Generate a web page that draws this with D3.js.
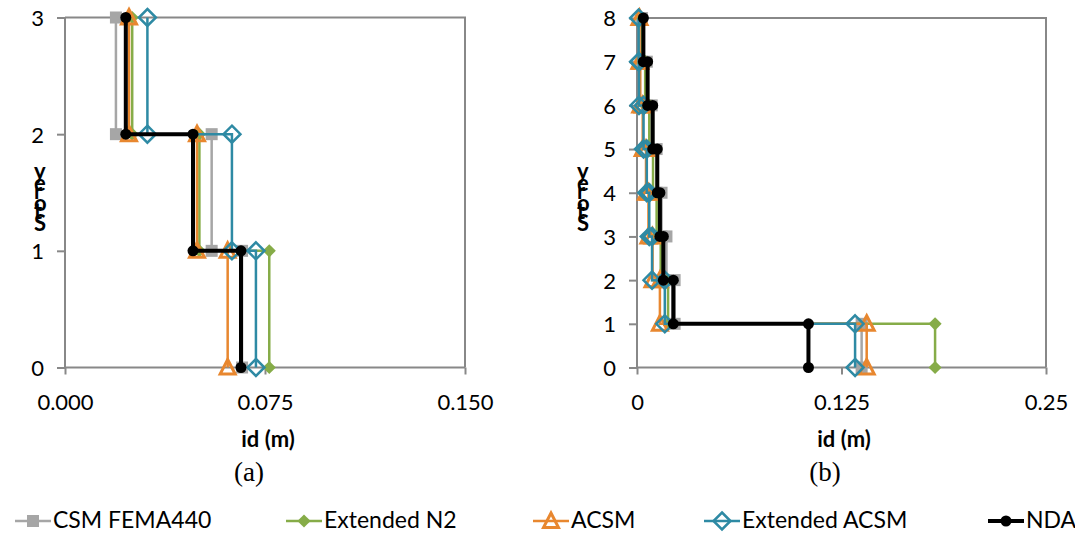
<!DOCTYPE html>
<html>
<head>
<meta charset="utf-8">
<script src="https://cdn.jsdelivr.net/npm/d3@7"></script>
<style>
  body { margin: 0; background: #fff; }
  svg { display: block; }
  text { font-family: Lato, "Noto Sans", sans-serif; fill: #000; }
</style>
</head>
<body>
<svg id="fig" width="1075" height="536"></svg>
<script>
// series names, in drawing / legend order
var seriesNames = ["CSM FEMA440", "Extended N2", "ACSM", "Extended ACSM", "NDA"];

// (a) 3-storey frame: drift of storey 1..3 (m)
var aStoreys = [1, 2, 3];
var aCSM    = [0.0664, 0.0550, 0.0191];
var aN2     = [0.0766, 0.0504, 0.0252];
var aACSM   = [0.0610, 0.0495, 0.0240];
var aExACSM = [0.0716, 0.0626, 0.0309];
var aNDA    = [0.0660, 0.0480, 0.0228];
var aXTicks = [0, 0.075, 0.15];
var aXLabels = ["0.000", "0.075", "0.150"];
var aYTicks = [0, 1, 2, 3];

// (b) 8-storey frame
var bStoreys = [1, 2, 3, 4, 5, 6, 7, 8];
var bCSM    = [0.1373, 0.0230, 0.0180, 0.0150, 0.0120, 0.0090, 0.0060, 0.0030];
var bN2     = [0.1822, 0.0190, 0.0145, 0.0120, 0.0098, 0.0075, 0.0050, 0.0030];
var bACSM   = [0.1404, 0.0140, 0.0095, 0.0070, 0.0055, 0.0035, 0.0020, 0.0015];
var bExACSM = [0.1333, 0.0170, 0.0092, 0.0075, 0.0060, 0.0040, 0.0012, 0.0010];
var bNDA    = [0.1048, 0.0222, 0.0161, 0.0140, 0.0124, 0.0096, 0.0065, 0.0039];
var bXTicks = [0, 0.125, 0.25];
var bXLabels = ["0", "0.125", "0.25"];
var bYTicks = [0, 1, 2, 3, 4, 5, 6, 7, 8];

var styles = [
  { color: "#A6A6A6", width: 2.5, marker: "square" },
  { color: "#86AC48", width: 2.5, marker: "diamondFill" },
  { color: "#E8872F", width: 2.5, marker: "triangle" },
  { color: "#2E8AA4", width: 2.5, marker: "diamond" },
  { color: "#000000", width: 4,   marker: "circle" }
];

var svg = d3.select("#fig");
var axisColor = "#888888";

function drawMarker(g, type, color, x, y) {
  if (type === "square") {
    g.append("rect").attr("x", x - 6).attr("y", y - 6).attr("width", 12).attr("height", 12)
      .attr("fill", color);
  } else if (type === "diamondFill") {
    g.append("path").attr("d", d3.symbol().type(d3.symbolDiamond2).size(110)())
      .attr("transform", "translate(" + x + "," + y + ")").attr("fill", color);
  } else if (type === "triangle") {
    g.append("path").attr("d", "M0,-8L7.5,6.5L-7.5,6.5Z")
      .attr("transform", "translate(" + x + "," + y + ")")
      .attr("fill", "none").attr("stroke", color).attr("stroke-width", 3);
  } else if (type === "diamond") {
    g.append("path").attr("d", "M0,-8.5L8.5,0L0,8.5L-8.5,0Z")
      .attr("transform", "translate(" + x + "," + y + ")")
      .attr("fill", "none").attr("stroke", color).attr("stroke-width", 2.5);
  } else {
    g.append("circle").attr("cx", x).attr("cy", y).attr("r", 5.5).attr("fill", color);
  }
}

function drawChart(cfg) {
  var x = d3.scaleLinear().domain([cfg.xTicks[0], cfg.xTicks[cfg.xTicks.length - 1]]).range([cfg.x0, cfg.x1]);
  var y = d3.scaleLinear().domain([0, cfg.yTicks[cfg.yTicks.length - 1]]).range([cfg.y0, cfg.y1]);
  var g = svg.append("g");

  // plot border (top / right)
  g.append("path")
    .attr("d", "M" + cfg.x0 + "," + cfg.y1 + "H" + cfg.x1 + "V" + cfg.y0)
    .attr("fill", "none").attr("stroke", axisColor).attr("stroke-width", 2);

  var xAxis = g.append("g").attr("transform", "translate(0," + cfg.y0 + ")")
    .call(d3.axisBottom(x).tickValues(cfg.xTicks).tickSize(7).tickFormat(function(d, i) { return cfg.xLabels[i]; }));
  xAxis.selectAll("text").attr("dy", 0).attr("y", 42).style("font-size", "22px");
  var yAxis = g.append("g").attr("transform", "translate(" + cfg.x0 + ",0)")
    .call(d3.axisLeft(y).tickValues(cfg.yTicks).tickSize(8).tickFormat(d3.format("d")));
  yAxis.selectAll("text").attr("x", -21).attr("dy", "0.36em").style("font-size", "22px");
  g.selectAll(".domain").attr("stroke", axisColor).attr("stroke-width", 2);
  g.selectAll(".tick line").attr("stroke", axisColor).attr("stroke-width", 2);
  g.selectAll(".tick text").attr("fill", "#000").style("font-family", "Lato, sans-serif");
  g.selectAll(".domain").attr("d", function() {
    return this.parentNode === xAxis.node()
      ? "M" + cfg.x0 + ",0H" + cfg.x1
      : "M0," + cfg.y0 + "V" + cfg.y1;
  });

  var line = d3.line().x(function(p) { return x(p[0]); }).y(function(p) { return y(p[1]); });

  cfg.series.forEach(function(vals, si) {
    var st = styles[si];
    var pts = [];
    vals.forEach(function(v, i) {
      pts.push([v, cfg.storeys[i] - 1]);
      pts.push([v, cfg.storeys[i]]);
    });
    var sg = g.append("g");
    sg.append("path").attr("d", line(pts)).attr("fill", "none")
      .attr("stroke", st.color).attr("stroke-width", st.width).attr("stroke-linejoin", "miter");
    pts.forEach(function(p) { drawMarker(sg, st.marker, st.color, x(p[0]), y(p[1])); });
  });

  // axis title
  g.append("text").attr("x", cfg.titleX).attr("y", 447).attr("text-anchor", "middle")
    .style("font-size", "22px").style("font-weight", "bold").text("id (m)");

  // "Storey" written bottom-to-top with upright glyphs (rotated text, glyphs turned back)
  g.append("text")
    .attr("transform", "translate(" + cfg.labelX + ",231) rotate(-90)")
    .attr("rotate", "90 90 90 90 90 90")
    .style("font-size", "22px").style("font-weight", "bold")
    .text("Storey");

  // sub caption
  g.append("text").attr("x", cfg.capX).attr("y", 481).attr("text-anchor", "middle")
    .style("font-family", "'Liberation Serif', 'Times New Roman', serif").style("font-size", "27px")
    .text(cfg.caption);
}

drawChart({
  x0: 65, x1: 465, y0: 367.5, y1: 17.5,
  xTicks: aXTicks, xLabels: aXLabels, yTicks: aYTicks, storeys: aStoreys,
  series: [aCSM, aN2, aACSM, aExACSM, aNDA],
  titleX: 268, labelX: 34, capX: 249, caption: "(a)"
});

drawChart({
  x0: 637, x1: 1046, y0: 367.5, y1: 18,
  xTicks: bXTicks, xLabels: bXLabels, yTicks: bYTicks, storeys: bStoreys,
  series: [bCSM, bN2, bACSM, bExACSM, bNDA],
  titleX: 844, labelX: 577, capX: 825, caption: "(b)"
});

// legend
var legendX = [15, 286, 533, 704, 988];
var leg = svg.append("g");
seriesNames.forEach(function(name, i) {
  var st = styles[i];
  var lx = legendX[i];
  leg.append("line").attr("x1", lx).attr("x2", lx + 36).attr("y1", 521).attr("y2", 521)
    .attr("stroke", st.color).attr("stroke-width", st.width);
  drawMarker(leg, st.marker, st.color, lx + 18, 521);
  leg.append("text").attr("x", lx + 38).attr("y", 528).style("font-size", "23px").text(name);
});
</script>
</body>
</html>
